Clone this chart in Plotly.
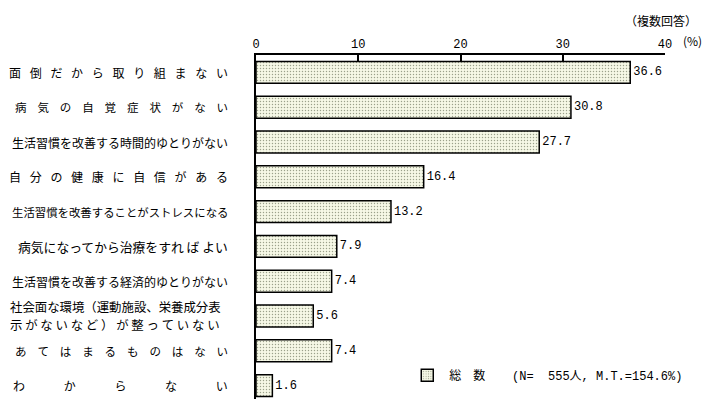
import plotly.graph_objects as go

categories = [
    "面倒だから取り組まない",
    "病気の自覚症状がない",
    "生活習慣を改善する時間的ゆとりがない",
    "自分の健康に自信がある",
    "生活習慣を改善することがストレスになる",
    "病気になってから治療をすれば よい",
    "生活習慣を改善する経済的ゆとりがない",
    "社会面な環境（運動施設、栄養成分表示がないなど）が整っていない",
    "あてはまるものはない",
    "わからない",
]
# display lines per category (spaced as in the original layout)
display_lines = [
    ["面\u2002 倒\u2002 だ\u2002 か\u2002 ら\u2002 取\u2002 り\u2002 組\u2002 ま\u2002 な\u2002 い"],
    ["病\u2002  気\u2002  の\u2002  自\u2002  覚\u2002  症\u2002  状\u2002  が\u2002  な\u2002  い"],
    ["生活習慣を改善する時間的ゆとりがない"],
    ["自\u2002 分\u2002 の\u2002 健\u2002 康\u2002 に\u2002 自\u2002 信\u2002 が\u2002 あ\u2002 る"],
    ["生活習慣を改善することがストレスになる"],
    ["病気になってから治療をすれ ば よい"],
    ["生活習慣を改善する経済的ゆとりがない"],
    ["社会面な環境（運動施設、栄養成分表", "示 が な い な ど ） が 整 っ て い な い"],
    ["あ\u2002  て\u2002  は\u2002  ま\u2002  る\u2002  も\u2002  の\u2002  は\u2002  な\u2002  い"],
    ["わ\u3000\u3000\u3000 か\u3000\u3000\u3000 ら\u3000\u3000\u3000 な\u3000\u3000\u3000 い"],
]
label_sizes = [12, 11.5, 12, 12, 11.4, 12.8, 12, 12.4, 11.5, 12]
values = [36.6, 30.8, 27.7, 16.4, 13.2, 7.9, 7.4, 5.6, 7.4, 1.6]
x_ticks = [0, 10, 20, 30, 40]

JP = "Noto Sans CJK JP"
NUM = "Liberation Mono"
series_name = ("総\u3000数\u3000\u3000\u00a0<span style=\"font-family:'Liberation Mono'\">(N=\u00a0\u00a0555</span>人"
               "<span style=\"font-family:'Liberation Mono'\">,\u00a0M.T.=154.6%)</span>")

fig = go.Figure()
fig.add_trace(go.Bar(
    y=list(range(len(categories))),
    x=values,
    orientation="h",
    name=series_name,
    text=[f"{v:.1f}" for v in values],
    textposition="outside",
    textfont=dict(family=NUM, size=12, color="#000"),
    cliponaxis=False,
    marker=dict(
        color="#f6f8e6",
        line=dict(color="#000", width=1.5),
        pattern=dict(shape=".", fgcolor="#3f4a30", bgcolor="#f6f8e6",
                     size=3, solidity=0.18, fillmode="overlay"),
    ),
    hovertext=categories,
))

for i, lines in enumerate(display_lines):
    n = len(lines)
    for k, line in enumerate(lines):
        shift = ((n - 1) / 2 - k) * 18
        fig.add_annotation(
            x=0, xref="paper",
            xshift=-28 if n == 1 else -246,
            xanchor="right" if n == 1 else "left",
            y=i, yref="y", yanchor="middle", yshift=shift,
            text=line, showarrow=False, borderpad=0, borderwidth=0,
            font=dict(family=JP, size=label_sizes[i], color="#000"),
        )

fig.add_annotation(x=1, xref="paper", xshift=34, xanchor="right", y=1, yref="paper",
                   yshift=35, yanchor="middle", text="（複数回答）", showarrow=False,
                   font=dict(family=JP, size=12, color="#000"))
fig.add_annotation(x=1, xref="paper", xshift=16, xanchor="left", y=1, yref="paper",
                   yshift=15, yanchor="middle", text="(%)", showarrow=False,
                   font=dict(family=JP, size=12, color="#000"))

fig.update_layout(
    width=713, height=399,
    margin=dict(l=248, r=56, t=47, b=4, autoexpand=False),
    paper_bgcolor="white", plot_bgcolor="white",
    bargap=0.37,
    showlegend=True,
    legend=dict(x=0.365, y=0.08, xanchor="left", yanchor="middle",
                font=dict(family=JP, size=12, color="#000"),
                bgcolor="rgba(0,0,0,0)", itemwidth=34),
    xaxis=dict(
        side="top", range=[0, 40], tickvals=x_ticks, ticktext=[str(t) for t in x_ticks],
        showgrid=False, zeroline=False, showline=True, linecolor="#000", linewidth=1.5,
        ticks="inside", ticklen=6, tickcolor="#000", tickwidth=1.5,
        tickfont=dict(family=NUM, size=12, color="#000"),
    ),
    yaxis=dict(
        range=[9.5, -0.5], showticklabels=False, showgrid=False, zeroline=False,
        showline=True, linecolor="#000", linewidth=1.5, ticks="",
    ),
)

fig.write_html("out.html")
